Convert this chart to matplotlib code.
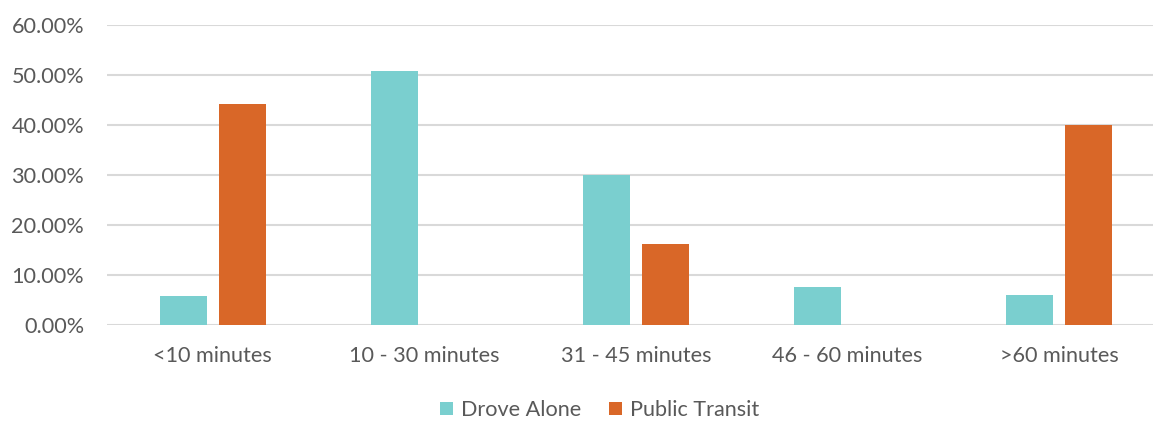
import numpy as np
import matplotlib.pyplot as plt
from matplotlib.ticker import FuncFormatter

categories = ["<10 minutes", "10 - 30 minutes", "31 - 45 minutes", "46 - 60 minutes", ">60 minutes"]
drove_alone = [5.8, 50.7, 30.0, 7.6, 5.9]
public_transit = [44.1, 0.0, 16.1, 0.0, 40.0]

teal = "#7acfcf"
orange = "#d96728"
text_col = "#595959"

plt.rcParams['font.family'] = ['Lato', 'DejaVu Sans']

fig = plt.figure(figsize=(11.53, 4.22), dpi=100)
# plot area runs past the right edge of the image, like the original
ax = fig.add_axes([107 / 1153, 0.2299, 1058 / 1153, 0.7109])

x = np.arange(len(categories))
w = 0.222
off = 0.14
ax.bar(x - off, drove_alone, w, color=teal, label="Drove Alone", zorder=3)
ax.bar(x + off, public_transit, w, color=orange, label="Public Transit", zorder=3)

ax.set_xlim(-0.5, len(categories) - 0.5)
ax.set_ylim(0, 60)
ax.set_yticks(np.arange(0, 61, 10))
ax.yaxis.set_major_formatter(FuncFormatter(lambda v, p: f"{v:.2f}%"))
ax.set_xticks(x)
ax.set_xticklabels(categories)

ax.grid(axis='y', color="#d9d9d9", lw=1.5, zorder=0)
ax.tick_params(axis='both', length=0, labelsize=15.6, labelcolor=text_col)
ax.tick_params(axis='y', pad=16.5)
ax.tick_params(axis='x', pad=15)
for s in ax.spines.values():
    s.set_visible(False)

leg = fig.legend(loc='center', bbox_to_anchor=(0.52, 0.028), ncol=2, frameon=False,
                 fontsize=15.6, handlelength=0.6, handleheight=0.6,
                 handletextpad=0.35, columnspacing=1.3, bbox_transform=fig.transFigure)
for t in leg.get_texts():
    t.set_color(text_col)

fig.savefig("out.png", dpi=100)
